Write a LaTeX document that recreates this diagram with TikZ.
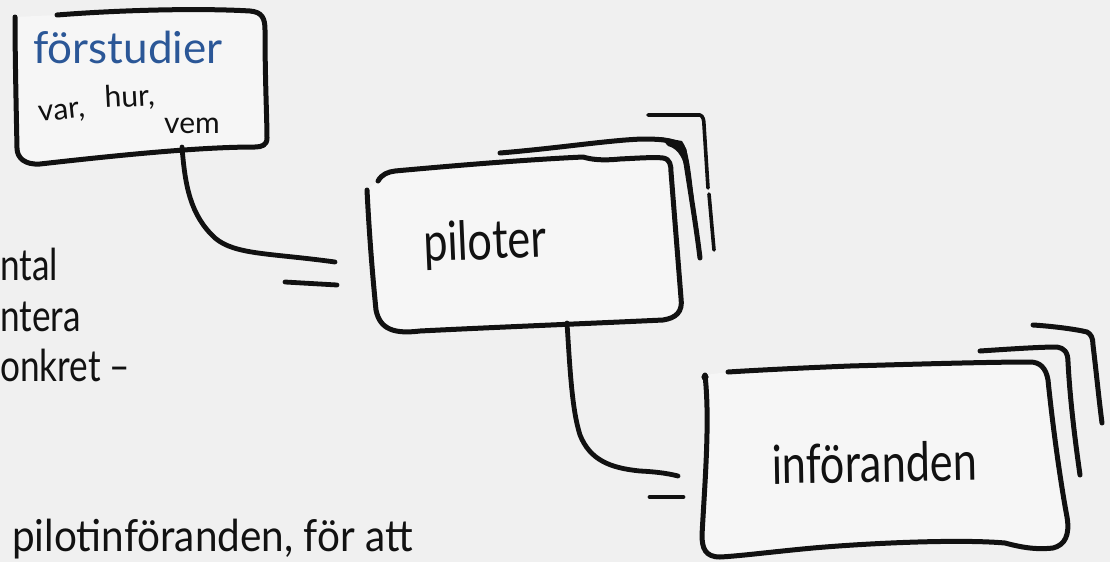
\documentclass[tikz,border=0pt]{standalone}
\usepackage{fontspec}
\setmainfont{Lato}
\definecolor{bg}{HTML}{F0F0F0}
\definecolor{boxfill}{HTML}{F6F6F6}
\definecolor{ink}{HTML}{111111}
\definecolor{fsblue}{HTML}{2B5797}
\tikzset{
  sketch/.style={draw=ink, line width=5pt, line cap=round, line join=round},
  sketchthin/.style={draw=ink, line width=3.6pt, line cap=round, line join=round},
  plug/.style={draw=ink, line width=4.8pt, line cap=round},
  bodytext/.style={text=ink, font=\fontsize{44}{50}\selectfont, inner sep=0pt, anchor=base west},
  boxlabel/.style={text=ink, font=\fontsize{54}{60}\selectfont, inner sep=0pt, anchor=base west},
  titlelabel/.style={text=fsblue, font=\fontsize{44}{50}\selectfont, inner sep=0pt, anchor=base west},
  smalllabel/.style={text=ink, font=\fontsize{30}{34}\selectfont, inner sep=0pt, anchor=base west},
}
\begin{document}
\begin{tikzpicture}[x=1pt,y=-1pt]
\useasboundingbox (0,0) rectangle (1110,562);
\fill[bg] (0,0) rectangle (1110,562);

% ---------- box: förstudier ----------
\draw[sketch, fill=boxfill] (57,15) .. controls (120,10) and (200,8) .. (250,11)
  .. controls (262,12) and (265,18) .. (265,30)
  .. controls (265,80) and (267,120) .. (267,138)
  .. controls (267,145) and (262,147) .. (255,147)
  .. controls (200,147) and (120,155) .. (40,164)
  .. controls (25,165) and (17,158) .. (17,148)
  .. controls (16,100) and (15,50) .. (15,17);
\node[titlelabel] (fstitle) at (33,63) {förstudier};
\node[smalllabel, rotate=6] (var) at (39,122) {var,};
\node[smalllabel, rotate=3] (hur) at (105,108) {hur,};
\node[smalllabel] (vem) at (164,133) {vem};

% ---------- box: piloter ----------
\draw[sketch] (500,153) .. controls (560,148) and (610,140) .. (643,139)
  .. controls (665,139) and (680,141) .. (684,150)
  .. controls (690,190) and (696,225) .. (700,258);
\fill[ink] (660,137) -- (682,141) .. controls (689,150) and (691,175) .. (694,200)
  -- (685,168) .. controls (682,155) and (676,148) .. (668,146) -- cycle;
\draw[sketchthin] (648,115) -- (700,115) .. controls (703,116) and (704,120) .. (704,125) -- (708,188);
\draw[sketchthin] (709,194) -- (714,250);
\draw[sketch, fill=boxfill] (378,181) .. controls (382,174) and (388,172) .. (395,171)
  .. controls (450,166) and (520,160) .. (583,157)
  .. controls (590,159) and (600,161) .. (620,159)
  .. controls (640,158) and (655,157) .. (663,158)
  .. controls (670,159) and (671,165) .. (671,172)
  .. controls (674,210) and (678,260) .. (681,298)
  .. controls (683,312) and (676,318) .. (663,320)
  .. controls (600,323) and (500,327) .. (420,331)
  .. controls (395,334) and (380,330) .. (376,310)
  .. controls (372,270) and (369,230) .. (367,190);
\node[boxlabel, rotate=2.5] (pil) at (424,262) {\scalebox{0.8}[1]{piloter}};

% ---------- box: införanden ----------
\draw[sketch] (980,351) .. controls (1010,349) and (1040,347) .. (1057,347)
  .. controls (1064,348) and (1068,352) .. (1068,362)
  .. controls (1070,400) and (1075,440) .. (1080,475);
\draw[sketch] (1033,325) .. controls (1050,326) and (1075,329) .. (1087,332)
  .. controls (1091,334) and (1093,338) .. (1093,345)
  .. controls (1096,370) and (1099,400) .. (1102,423);
\draw[sketch, fill=boxfill] (728,372) .. controls (760,370) and (800,368) .. (850,366)
  .. controls (920,364) and (990,362) .. (1030,362)
  .. controls (1040,362) and (1046,368) .. (1048,380)
  .. controls (1052,420) and (1060,480) .. (1067,517)
  .. controls (1070,535) and (1065,545) .. (1053,548)
  .. controls (1035,550) and (1020,547) .. (1005,543)
  .. controls (960,539) and (870,543) .. (813,548)
  .. controls (770,552) and (740,556) .. (720,557)
  .. controls (705,557) and (702,548) .. (702,535)
  .. controls (705,480) and (710,420) .. (705,375);
\fill[ink] (705,377) circle (3.6pt);
\node[boxlabel, rotate=1] (inf) at (772,484) {\scalebox{0.8}[1]{införanden}};

% ---------- connectors ----------
\coordinate (fsout) at (182,147);
\coordinate (plugA) at (335,262);
\coordinate (plugAa) at (285,282);
\coordinate (plugAb) at (337,285);
\draw[plug] (fsout) .. controls (185,185) and (190,215) .. (215,238)
  .. controls (235,255) and (270,253) .. (plugA);
\draw[plug] (plugAa) -- (plugAb);

\coordinate (pilout) at (567,323);
\coordinate (plugB) at (678,476);
\coordinate (plugBa) at (650,497);
\coordinate (plugBb) at (683,497);
\draw[plug] (pilout) .. controls (570,370) and (572,410) .. (580,435)
  .. controls (590,460) and (610,468) .. (640,471)
  .. controls (660,472) and (670,474) .. (plugB);
\draw[plug] (plugBa) -- (plugBb);

% ---------- left text ----------
\node[bodytext] (t1) at (0,280) {\scalebox{0.8}[1]{ntal}};
\node[bodytext] (t2) at (0,331) {\scalebox{0.8}[1]{ntera}};
\node[bodytext] (t3) at (0,381) {\scalebox{0.8}[1]{onkret –}};
\node[bodytext] (t4) at (12,551) {\scalebox{0.92}[1]{pilotinföranden, för att}};
\end{tikzpicture}
\end{document}
